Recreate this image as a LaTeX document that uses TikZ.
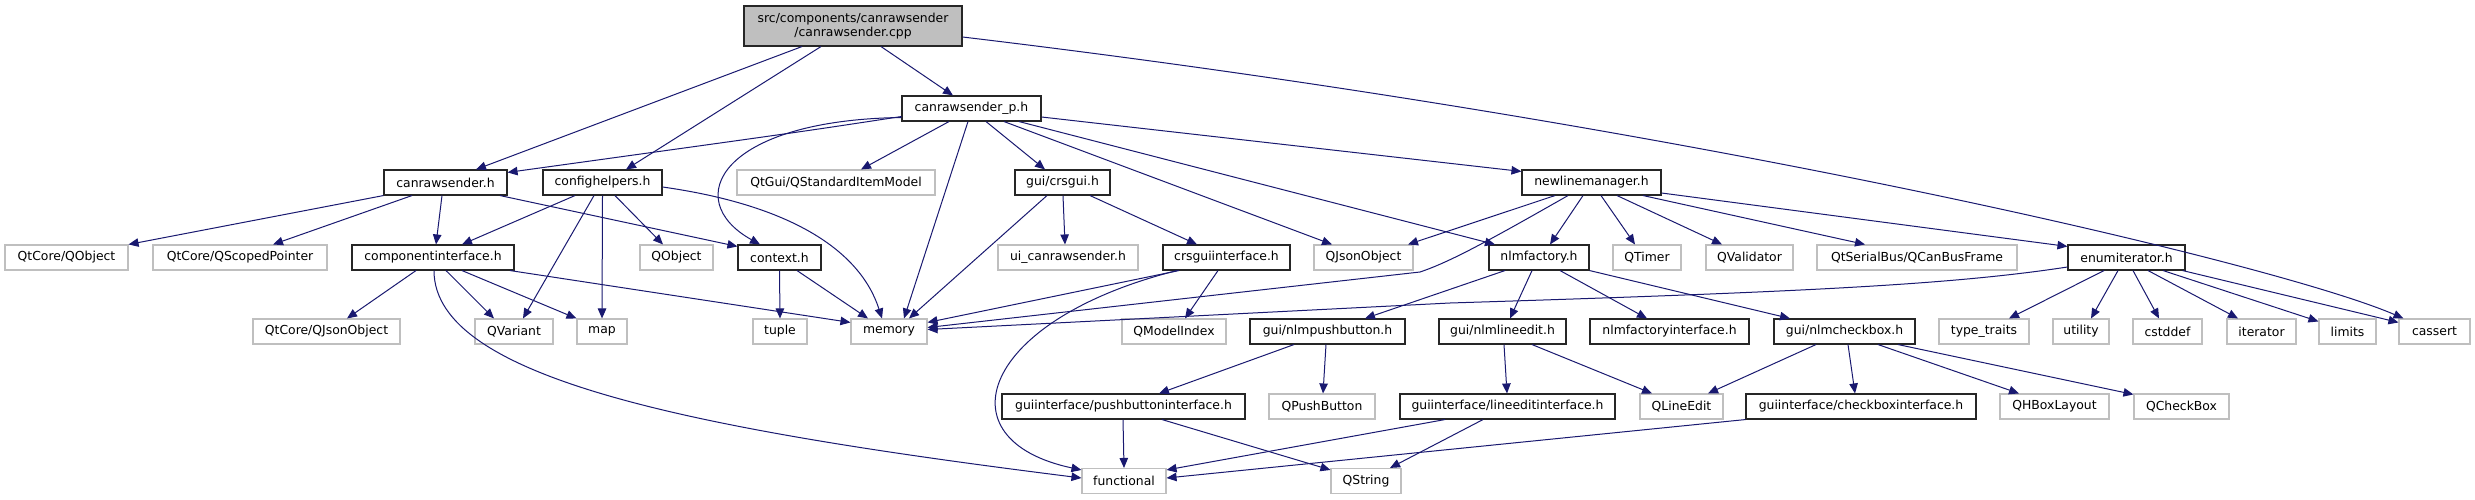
\documentclass[tikz,border=0pt]{standalone}
\usepackage{fontspec}
\setmainfont{DejaVu Sans}
\usetikzlibrary{arrows.meta}
\definecolor{edgeblue}{HTML}{191970}
\definecolor{extgray}{HTML}{BFBFBF}
\definecolor{topfill}{HTML}{BFBFBF}
\definecolor{incborder}{HTML}{262626}
\begin{document}
\begin{tikzpicture}[x=1pt,y=-1pt,
  box/.style={rectangle, inner sep=0pt, minimum height=25pt, line width=1.1pt,
    font=\fontsize{12.4}{14.5}\selectfont, align=center},
  inc/.style={box, draw=incborder, fill=white},
  ext/.style={box, draw=extgray, fill=white},
  topbox/.style={box, draw=incborder, fill=topfill, minimum height=40pt},
  e/.style={draw=edgeblue, line width=1pt, -{Triangle[length=10pt,width=8.5pt]}, fill=none}]
\path[use as bounding box, fill=white] (0,0) rectangle (2475,500);

% rank 0
\node[topbox, minimum width=218pt] (top) at (853,26) {src/components/canrawsender\\/canrawsender.cpp};
% rank 1
\node[inc, minimum width=139pt] (crsp) at (971.5,108.5) {canrawsender\_p.h};
% rank 2
\node[inc, minimum width=123pt] (crs) at (445.5,182.5) {canrawsender.h};
\node[inc, minimum width=119pt] (cfg) at (602.5,182.5) {confighelpers.h};
\node[ext, minimum width=198pt] (qsim) at (836,182.5) {QtGui/QStandardItemModel};
\node[inc, minimum width=95pt] (crsgui) at (1062.5,182.5) {gui/crsgui.h};
\node[inc, minimum width=139pt] (nlm) at (1591.5,182.5) {newlinemanager.h};
% rank 3
\node[ext, minimum width=123pt] (qcobj) at (66.5,257.5) {QtCore/QObject};
\node[ext, minimum width=174pt] (qcsp) at (240,257.5) {QtCore/QScopedPointer};
\node[inc, minimum width=162pt] (ci) at (433,257.5) {componentinterface.h};
\node[ext, minimum width=73pt] (qobj) at (676.5,257.5) {QObject};
\node[inc, minimum width=83pt] (ctx) at (779.5,257.5) {context.h};
\node[ext, minimum width=140pt] (ui) at (1068,257.5) {ui\_canrawsender.h};
\node[inc, minimum width=127pt] (crsgi) at (1226.5,257.5) {crsguiinterface.h};
\node[ext, minimum width=99pt] (qjo) at (1363.5,257.5) {QJsonObject};
\node[inc, minimum width=100pt] (nlmf) at (1539,257.5) {nlmfactory.h};
\node[ext, minimum width=68pt] (qtimer) at (1647,257.5) {QTimer};
\node[ext, minimum width=87pt] (qval) at (1749.5,257.5) {QValidator};
\node[ext, minimum width=200pt] (qcbf) at (1917,257.5) {QtSerialBus/QCanBusFrame};
\node[inc, minimum width=117pt] (enumit) at (2126.5,257.5) {enumiterator.h};
% rank 4
\node[ext, minimum width=147pt] (qcjo) at (326.5,331.5) {QtCore/QJsonObject};
\node[ext, minimum width=78pt] (qvar) at (514,331.5) {QVariant};
\node[ext, minimum width=50pt] (map) at (602,331.5) {map};
\node[ext, minimum width=54pt] (tuple) at (780,331.5) {tuple};
\node[ext, minimum width=76pt] (memory) at (889,331.5) {memory};
\node[ext, minimum width=104pt] (qmi) at (1174,331.5) {QModelIndex};
\node[inc, minimum width=155pt] (nlmpb) at (1327.5,331.5) {gui/nlmpushbutton.h};
\node[inc, minimum width=127pt] (nlmle) at (1502.5,331.5) {gui/nlmlineedit.h};
\node[inc, minimum width=159pt] (nlmfi) at (1669.5,331.5) {nlmfactoryinterface.h};
\node[inc, minimum width=141pt] (nlmcb) at (1844.5,331.5) {gui/nlmcheckbox.h};
\node[ext, minimum width=90pt] (tt) at (1984,331.5) {type\_traits};
\node[ext, minimum width=56pt] (util) at (2081,331.5) {utility};
\node[ext, minimum width=69pt] (cstddef) at (2167.5,331.5) {cstddef};
\node[ext, minimum width=69pt] (iter) at (2261.5,331.5) {iterator};
\node[ext, minimum width=57pt] (limits) at (2347.5,331.5) {limits};
\node[ext, minimum width=71pt] (cassert) at (2434.5,331.5) {cassert};
% rank 5
\node[inc, minimum width=243pt] (pbi) at (1123.5,406.5) {guiinterface/pushbuttoninterface.h};
\node[ext, minimum width=106pt] (qpb) at (1322,406.5) {QPushButton};
\node[inc, minimum width=215pt] (lei) at (1507.5,406.5) {guiinterface/lineeditinterface.h};
\node[ext, minimum width=83pt] (qle) at (1681.5,406.5) {QLineEdit};
\node[inc, minimum width=230pt] (cbi) at (1861,406.5) {guiinterface/checkboxinterface.h};
\node[ext, minimum width=109pt] (qhbl) at (2054.5,406.5) {QHBoxLayout};
\node[ext, minimum width=95pt] (qcb) at (2181.5,406.5) {QCheckBox};
% rank 6
\node[ext, minimum width=84pt] (func) at (1124,481) {functional};
\node[ext, minimum width=70pt] (qstr) at (1366,481) {QString};

% edges from top
\draw[e] ([xshift=-51pt]top.south) -- ([xshift=30.5pt]crs.north);
\draw[e] ([xshift=-32pt]top.south) -- ([xshift=23.5pt]cfg.north);
\draw[e] ([xshift=28pt]top.south) -- ([xshift=-18.5pt]crsp.north);
\draw[e] ([yshift=-11pt]top.east) .. controls (1700,125) and (2280,265) .. ([xshift=5pt]cassert.north west);
% from canrawsender_p.h
\draw[e] ([yshift=-8pt]crsp.west) .. controls (800,132) .. ([yshift=-3pt]crs.north east);
\draw[e] ([yshift=-9pt]crsp.west) .. controls (720,120) and (680,200) .. ([xshift=-19.5pt]ctx.north);
\draw[e] ([xshift=-22.5pt]crsp.south) -- ([xshift=25pt]qsim.north);
\draw[e] ([xshift=-3.5pt]crsp.south) -- ([xshift=15pt]memory.north);
\draw[e] ([xshift=14.5pt]crsp.south) -- ([xshift=-17.5pt]crsgui.north);
\draw[e] ([xshift=32.5pt]crsp.south) -- ([xshift=-31.5pt]qjo.north);
\draw[e] ([xshift=47.5pt]crsp.south) -- ([xshift=-44pt]nlmf.north);
\draw[e] ([yshift=-8.5pt]crsp.east) -- ([yshift=-2pt]nlm.north west);
% from canrawsender.h
\draw[e] (crs.south west) -- (qcobj.north east);
\draw[e] ([xshift=-33.5pt]crs.south) -- ([xshift=33pt]qcsp.north);
\draw[e] ([xshift=-3.5pt]crs.south) -- ([xshift=3pt]ci.north);
\draw[e] ([xshift=54.5pt]crs.south) -- ([yshift=-2pt]ctx.north west);
% from confighelpers.h
\draw[e] ([xshift=-27.5pt]cfg.south) -- ([xshift=29pt]ci.north);
\draw[e] ([xshift=-8.5pt]cfg.south) -- ([xshift=9pt]qvar.north);
\draw[e] (cfg.south) -- (map.north);
\draw[e] ([xshift=12.5pt]cfg.south) -- ([xshift=-13.5pt]qobj.north);
\draw[e] ([yshift=-4.5pt]cfg.east) .. controls (790,205) and (860,250) .. ([xshift=-7pt]memory.north);
% from componentinterface.h
\draw[e] ([xshift=-17pt]ci.south) -- ([xshift=20.5pt]qcjo.north);
\draw[e] ([xshift=13pt]ci.south) -- ([xshift=-20pt]qvar.north);
\draw[e] ([xshift=29pt]ci.south) -- (map.north west);
\draw[e] ([xshift=77pt]ci.south) -- ([yshift=-4pt]memory.north west);
\draw[e] ([xshift=1pt]ci.south) .. controls (434,380) and (700,430) .. ([yshift=3pt]func.west);
% from context.h
\draw[e] (ctx.south) -- (tuple.north);
\draw[e] ([xshift=17.5pt]ctx.south) -- ([xshift=-21pt]memory.north);
% from gui/crsgui.h
\draw[e] ([xshift=-15.5pt]crsgui.south) -- ([xshift=20pt]memory.north);
\draw[e] ([xshift=0.5pt]crsgui.south) -- ([xshift=-3pt]ui.north);
\draw[e] ([xshift=27.5pt]crsgui.south) -- ([xshift=-29.5pt]crsgi.north);
% from crsguiinterface.h
\draw[e] ([xshift=-47.5pt]crsgi.south) -- ([yshift=-4pt]memory.north east);
\draw[e] ([xshift=-8.5pt]crsgi.south) -- ([xshift=11pt]qmi.north);
\draw[e] ([xshift=-49.5pt]crsgi.south) .. controls (980,320) and (940,440) .. ([yshift=-2pt]func.north west);
% from newlinemanager.h
\draw[e] ([xshift=-36.5pt]nlm.south) -- ([xshift=44.5pt]qjo.north);
\draw[e] ([xshift=-23.5pt]nlm.south) .. controls (1490,240) and (1450,262) .. (1420,272) -- ([yshift=4pt]memory.east);
\draw[e] ([xshift=-8.5pt]nlm.south) -- ([xshift=11pt]nlmf.north);
\draw[e] ([xshift=9.5pt]nlm.south) -- ([xshift=-12pt]qtimer.north);
\draw[e] ([xshift=25.5pt]nlm.south) -- ([xshift=-27.5pt]qval.north);
\draw[e] ([xshift=51.5pt]nlm.south) -- ([xshift=-52pt]qcbf.north);
\draw[e] ([yshift=-10.5pt]nlm.east) -- ([yshift=-2pt]enumit.north west);
% from nlmfactory.h
\draw[e] ([xshift=-34pt]nlmf.south) -- ([xshift=37.5pt]nlmpb.north);
\draw[e] ([xshift=-7pt]nlmf.south) -- ([xshift=7.5pt]nlmle.north);
\draw[e] ([xshift=21pt]nlmf.south) -- ([xshift=-22.5pt]nlmfi.north);
\draw[e] (nlmf.south east) -- ([xshift=-54.5pt]nlmcb.north);
% from enumiterator.h
\draw[e] ([yshift=-9.5pt]enumit.west) .. controls (1950,285) and (1800,292) .. (1450,303) -- ([yshift=2pt]memory.east);
\draw[e] ([xshift=-22.5pt]enumit.south) -- ([xshift=25pt]tt.north);
\draw[e] ([xshift=-8.5pt]enumit.south) -- ([xshift=10pt]util.north);
\draw[e] ([xshift=6.5pt]enumit.south) -- ([xshift=-8.5pt]cstddef.north);
\draw[e] ([xshift=21.5pt]enumit.south) -- ([xshift=-23.5pt]iter.north);
\draw[e] ([xshift=36.5pt]enumit.south) -- ([yshift=-3pt]limits.north west);
\draw[e] ([xshift=-3pt]enumit.south east) -- ([yshift=-4pt]cassert.north west);
% from gui/nlmpushbutton.h
\draw[e] ([xshift=-33.5pt]nlmpb.south) -- ([xshift=35.5pt]pbi.north);
\draw[e] ([xshift=-1.5pt]nlmpb.south) -- ([xshift=1pt]qpb.north);
% from gui/nlmlineedit.h
\draw[e] ([xshift=1.5pt]nlmle.south) -- ([xshift=-0.5pt]lei.north);
\draw[e] ([xshift=29.5pt]nlmle.south) -- ([xshift=-29.5pt]qle.north);
% from gui/nlmcheckbox.h
\draw[e] ([xshift=-28.5pt]nlmcb.south) -- ([xshift=26.5pt]qle.north);
\draw[e] ([xshift=3.5pt]nlmcb.south) -- ([xshift=-6pt]cbi.north);
\draw[e] ([xshift=33.5pt]nlmcb.south) -- ([xshift=-35.5pt]qhbl.north);
\draw[e] ([xshift=53.5pt]nlmcb.south) -- ([yshift=-1pt]qcb.north west);
% from interface headers
\draw[e] ([xshift=-0.5pt]pbi.south) -- (func.north);
\draw[e] ([xshift=38.5pt]pbi.south) -- ([yshift=-2pt]qstr.north west);
\draw[e] ([xshift=-62.5pt]lei.south) -- ([yshift=-2pt]func.north east);
\draw[e] ([xshift=-24.5pt]lei.south) -- ([xshift=24pt]qstr.north);
\draw[e] (cbi.south west) -- ([yshift=3pt]func.east);
\end{tikzpicture}
\end{document}
